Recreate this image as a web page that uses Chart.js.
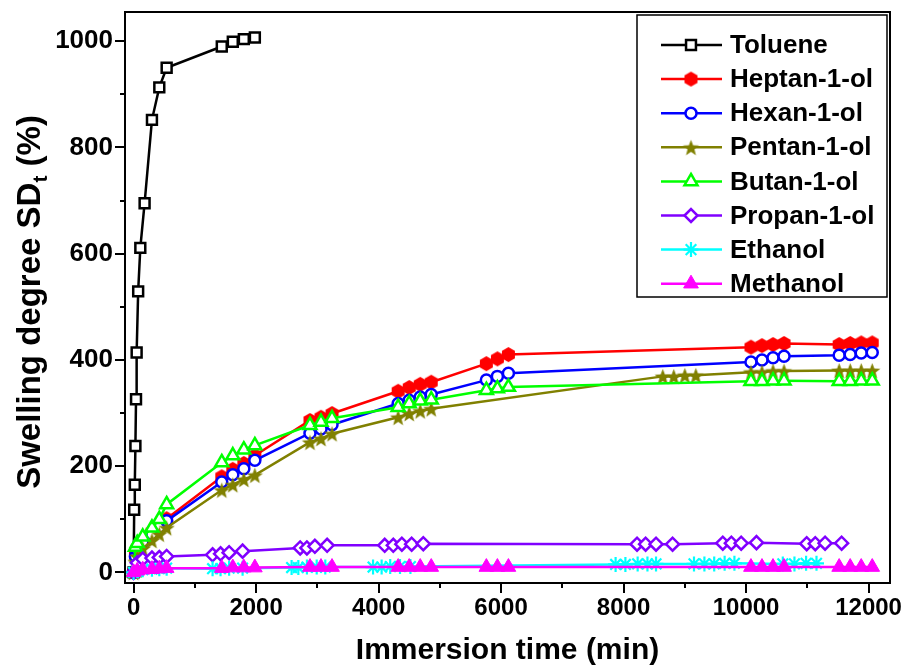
<!DOCTYPE html>
<html><head><meta charset="utf-8">
<script src="https://cdn.jsdelivr.net/npm/chart.js@4.4.1/dist/chart.umd.min.js"></script>
<style>html,body{margin:0;padding:0;background:#fff;}canvas{display:block;}</style>
</head><body>
<canvas id="c" width="905" height="669"></canvas>
<script>
// ---------------- data ----------------
const seriesNames = ['Toluene','Heptan-1-ol','Hexan-1-ol','Pentan-1-ol','Butan-1-ol','Propan-1-ol','Ethanol','Methanol'];

const tolueneTime = [0,10,20,30,40,50,75,110,180,300,420,540,1440,1620,1800,1980];
const tolueneSD   = [0,118,165,238,326,414,529,611,695,852,913,950,990,999,1004,1007];

const heptanTime = [0,30,60,150,300,420,540,1440,1620,1800,1980,2880,3060,3240,4320,4500,4680,4860,5760,5940,6120,10080,10260,10440,10620,11520,11700,11880,12060];
const heptanSD   = [0,32,45,60,76,88,101,180,194,205,220,286,292,299,341,348,354,358,393,402,410,424,427,429,431,429,431,432,432];

const hexanTime = [0,30,60,150,300,420,540,1440,1620,1800,1980,2880,3060,3240,4320,4500,4680,4860,5760,5940,6120,10080,10260,10440,10620,11520,11700,11880,12060];
const hexanSD   = [0,30,42,57,72,85,97,170,184,195,211,262,270,278,318,324,330,335,362,369,375,396,400,404,407,409,410,413,414];

const pentanTime = [0,30,60,150,300,420,540,1440,1620,1800,1980,2880,3060,3240,4320,4500,4680,4860,8640,8820,9000,9180,10080,10260,10440,10620,11520,11700,11880,12060];
const pentanSD   = [0,20,30,45,60,72,84,155,165,175,183,245,252,261,292,299,304,308,369,369,371,371,377,377,379,379,380,380,380,380];

const butanTime = [0,30,60,150,300,420,540,1440,1620,1800,1980,2880,3060,3240,4320,4500,4680,4860,5760,5940,6120,10080,10260,10440,10620,11520,11700,11880,12060];
const butanSD   = [0,48,55,67,84,100,128,207,220,231,239,277,283,290,311,318,323,325,343,346,349,360,360,361,361,360,360,361,361];

const propanTime = [0,60,150,300,420,540,1290,1420,1560,1780,2720,2830,2960,3160,4100,4240,4380,4540,4730,8220,8360,8530,8800,9620,9760,9920,10170,10990,11130,11290,11560];
const propanSD   = [0,18,25,27,28,30,33,35,37,40,46,46,49,51,51,51,53,53,54,53,53,53,53,55,55,55,56,54,54,55,55];

const ethanolTime = [0,60,150,300,420,540,1290,1420,1560,1780,2580,2690,2830,2990,3130,3910,4050,4190,4350,4520,7870,8030,8230,8390,8530,9150,9320,9480,9650,9810,10600,10790,10980,11150];
const ethanolSD   = [0,3,5,6,7,8,7,7,8,8,9,9,10,10,10,10,10,11,11,11,15,15,16,16,16,16,16,16,17,17,16,16,17,17];

const methanolTime = [0,60,150,300,420,540,1440,1620,1800,1980,2880,3060,3240,4320,4500,4680,4860,5760,5940,6120,10080,10260,10440,10620,11520,11700,11880,12060];
const methanolSD   = [0,3,5,6,7,8,8,9,9,9,10,10,10,10,10,10,10,10,10,10,10,10,10,10,10,10,10,10];

const xTickValues  = [0,2000,4000,6000,8000,10000,12000];
const xMinorTicks  = [1000,3000,5000,7000,9000,11000];
const yTickValues  = [0,200,400,600,800,1000];
const yMinorTicks  = [100,300,500,700,900];

const xTitle = 'Immersion time (min)';
const yTitleMain = 'Swelling degree SD';
const yTitleSub = 't';
const yTitleEnd = ' (%)';

// ---------------- styling ----------------
const FONT = "'Liberation Sans', Arial, Helvetica, sans-serif";
Chart.defaults.font.family = FONT;

function makeHexagon(r, color) {
  const s = Math.ceil(2 * r + 2);
  const c = document.createElement('canvas'); c.width = s; c.height = s;
  const g = c.getContext('2d'); g.fillStyle = color; g.beginPath();
  for (let k = 0; k < 6; k++) {
    const a = -Math.PI / 2 + k * Math.PI / 3;
    const px = s / 2 + r * Math.cos(a), py = s / 2 + r * Math.sin(a);
    if (k) g.lineTo(px, py); else g.moveTo(px, py);
  }
  g.closePath(); g.fill();
  return c;
}
function makeStar(ro, ri, color) {
  const s = Math.ceil(2 * ro + 2);
  const c = document.createElement('canvas'); c.width = s; c.height = s;
  const g = c.getContext('2d'); g.fillStyle = color; g.beginPath();
  for (let k = 0; k < 10; k++) {
    const r = k % 2 ? ri : ro;
    const a = -Math.PI / 2 + k * Math.PI / 5;
    const px = s / 2 + r * Math.cos(a), py = s / 2 + 1 + r * Math.sin(a);
    if (k) g.lineTo(px, py); else g.moveTo(px, py);
  }
  g.closePath(); g.fill();
  return c;
}

const hexImg = makeHexagon(7.5, '#FF0000');
const starImg = makeStar(8.5, 3.6, '#808000');

const styles = [
  {color:'#000000', style:'rect',     radius:7,   fill:'#FFFFFF', bw:2.5},
  {color:'#FF0000', style:hexImg,     radius:6,   fill:'#FF0000', bw:0},
  {color:'#0000FF', style:'circle',   radius:5.5, fill:'#FFFFFF', bw:2.5},
  {color:'#808000', style:starImg,    radius:6,   fill:'#808000', bw:0},
  {color:'#00FF00', style:'triangle', radius:7.5, fill:'#FFFFFF', bw:2.5},
  {color:'#8000FF', style:'rectRot',  radius:6.5, fill:'#FFFFFF', bw:2.5},
  {color:'#00FFFF', style:'star',     radius:7.5, fill:'#00FFFF', bw:2.2},
  {color:'#FF00FF', style:'triangle', radius:8.5, fill:'#FF00FF', bw:1}
];

const seriesX = [tolueneTime, heptanTime, hexanTime, pentanTime, butanTime, propanTime, ethanolTime, methanolTime];
const seriesY = [tolueneSD, heptanSD, hexanSD, pentanSD, butanSD, propanSD, ethanolSD, methanolSD];

const datasets = seriesNames.map((name, i) => ({
  label: name,
  data: seriesX[i].map((t, k) => ({x: t, y: seriesY[i][k]})),
  borderColor: styles[i].color,
  backgroundColor: styles[i].fill,
  borderWidth: 2.5,
  pointStyle: styles[i].style,
  pointRadius: styles[i].radius,
  pointBackgroundColor: styles[i].fill,
  pointBorderColor: styles[i].color,
  pointBorderWidth: styles[i].bw,
  tension: 0,
  fill: false,
  order: seriesNames.length - i
}));

// frame + tick marks
const framePlugin = {
  id: 'frame',
  afterDatasetsDraw(chart) {
    const {ctx, chartArea: a, scales: {x, y}} = chart;
    ctx.save();
    ctx.strokeStyle = '#000'; ctx.lineWidth = 2;
    ctx.strokeRect(a.left, a.top, a.right - a.left, a.bottom - a.top);
    ctx.beginPath();
    xTickValues.concat(xMinorTicks).forEach(v => {
      const px = Math.round(x.getPixelForValue(v));
      const len = xTickValues.includes(v) ? 10 : 5;
      ctx.moveTo(px, a.bottom); ctx.lineTo(px, a.bottom + len);
    });
    yTickValues.concat(yMinorTicks).forEach(v => {
      const py = Math.round(y.getPixelForValue(v));
      const len = yTickValues.includes(v) ? 10 : 5;
      ctx.moveTo(a.left, py); ctx.lineTo(a.left - len, py);
    });
    ctx.stroke();
    ctx.restore();
  }
};

// y-axis title with subscript
const yTitlePlugin = {
  id: 'yTitle',
  afterDraw(chart) {
    const ctx = chart.ctx;
    const size = 33, sub = 21;
    ctx.save();
    ctx.translate(28, 302);
    ctx.rotate(-Math.PI / 2);
    const big = `bold ${size}px ${FONT}`, small = `bold ${sub}px ${FONT}`;
    ctx.font = big;
    const w1 = ctx.measureText(yTitleMain).width, w3 = ctx.measureText(yTitleEnd).width;
    ctx.font = small;
    const w2 = ctx.measureText(yTitleSub).width;
    let x0 = -(w1 + w2 + w3) / 2;
    ctx.fillStyle = '#000'; ctx.textAlign = 'left'; ctx.textBaseline = 'alphabetic';
    const base = size * 0.36;
    ctx.font = big; ctx.fillText(yTitleMain, x0, base); x0 += w1;
    ctx.font = small; ctx.fillText(yTitleSub, x0, base + 7); x0 += w2;
    ctx.font = big; ctx.fillText(yTitleEnd, x0, base);
    ctx.restore();
  }
};

// legend box
const legendPlugin = {
  id: 'legendBox',
  afterDraw(chart) {
    const ctx = chart.ctx;
    const bx = 637, by = 15, bw = 250, bh = 282;
    ctx.save();
    ctx.fillStyle = '#fff';
    ctx.fillRect(bx, by, bw, bh);
    ctx.strokeStyle = '#000'; ctx.lineWidth = 1.5;
    ctx.strokeRect(bx, by, bw, bh);
    seriesNames.forEach((name, i) => {
      const yy = 45 + i * 34.1;
      const s = styles[i];
      ctx.strokeStyle = s.color; ctx.lineWidth = 2.5;
      ctx.beginPath(); ctx.moveTo(661, yy); ctx.lineTo(722, yy); ctx.stroke();
      ctx.fillStyle = s.fill; ctx.strokeStyle = s.color; ctx.lineWidth = s.bw;
      Chart.helpers.drawPoint(ctx, {pointStyle: s.style, rotation: 0, radius: s.radius, borderWidth: s.bw}, 691, yy);
      ctx.fillStyle = '#000';
      ctx.font = `bold 26px ${FONT}`;
      ctx.textAlign = 'left'; ctx.textBaseline = 'middle';
      ctx.fillText(name, 730, yy + 1);
    });
    ctx.restore();
  }
};

function zeroPad(s) { s.paddingLeft = 0; s.paddingRight = 0; s.paddingTop = 0; s.paddingBottom = 0; }

new Chart(document.getElementById('c'), {
  type: 'line',
  data: {datasets},
  options: {
    responsive: false,
    animation: false,
    devicePixelRatio: 1,
    layout: {padding: {top: 12, right: 15, left: 0, bottom: 0}},
    plugins: {legend: {display: false}, tooltip: {enabled: false}},
    scales: {
      x: {
        type: 'linear', min: -140, max: 12350,
        grid: {display: false, drawTicks: false},
        border: {display: false},
        afterBuildTicks: s => { s.ticks = xTickValues.map(v => ({value: v})); },
        afterFit: s => { s.height = 86; zeroPad(s); },
        ticks: {padding: 11, maxRotation: 0, autoSkip: false, color: '#000',
                callback: v => String(v),
                font: {family: FONT, size: 24, weight: 'bold'}},
        title: {display: true, text: xTitle, color: '#000',
                font: {family: FONT, size: 30, weight: 'bold'}, padding: {top: 0, bottom: 0}}
      },
      y: {
        type: 'linear', min: -20, max: 1055,
        grid: {display: false, drawTicks: false},
        border: {display: false},
        afterBuildTicks: s => { s.ticks = yTickValues.map(v => ({value: v})); },
        afterFit: s => { s.width = 125; zeroPad(s); },
        ticks: {padding: 12, color: '#000', callback: v => String(v),
                font: {family: FONT, size: 26, weight: 'bold'}}
      }
    }
  },
  plugins: [framePlugin, yTitlePlugin, legendPlugin]
});
</script>
</body></html>
